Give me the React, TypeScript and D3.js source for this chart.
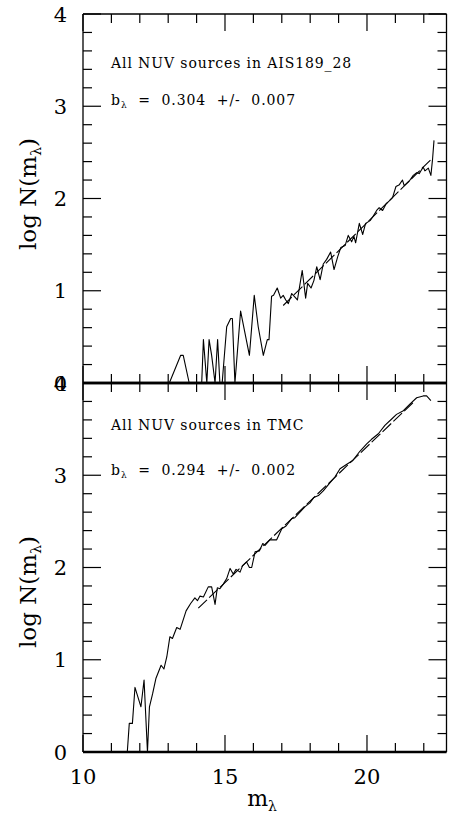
import React from 'react';
import * as d3 from 'd3';

// Top panel: all NUV sources in AIS189_28
const topMag = [13.04, 13.44, 13.53, 13.74, 14.18, 14.24, 14.36, 14.44, 14.53, 14.65, 14.74, 14.82, 14.9, 15.06, 15.2, 15.26, 15.35, 15.55, 15.86, 16.03, 16.17, 16.35, 16.49, 16.55, 16.64, 16.71, 16.84, 16.96, 17.05, 17.14, 17.23, 17.35, 17.44, 17.55, 17.72, 17.84, 17.91, 18.03, 18.13, 18.23, 18.35, 18.46, 18.58, 18.72, 18.84, 18.97, 19.08, 19.23, 19.34, 19.46, 19.54, 19.6, 19.73, 19.85, 19.95, 20.11, 20.2, 20.34, 20.43, 20.55, 20.67, 20.9, 21.02, 21.14, 21.25, 21.31, 21.49, 21.63, 21.75, 21.84, 21.9, 21.98, 22.04, 22.16, 22.25, 22.31, 22.36];
const topLogN = [0, 0.3, 0.3, 0, 0, 0.47, 0, 0.47, 0.3, 0, 0.47, 0, 0, 0.61, 0.7, 0.7, 0, 0.78, 0.3, 0.95, 0.61, 0.3, 0.47, 0.47, 0.94, 0.95, 1.03, 0.92, 0.95, 0.9, 0.86, 0.97, 0.94, 0.9, 1.22, 0.92, 1.08, 1.03, 1.11, 1.26, 1.12, 1.29, 1.34, 1.42, 1.23, 1.37, 1.47, 1.49, 1.6, 1.53, 1.59, 1.52, 1.73, 1.61, 1.73, 1.76, 1.8, 1.87, 1.9, 1.87, 1.94, 2.01, 2.13, 2.15, 2.2, 2.14, 2.19, 2.25, 2.28, 2.27, 2.3, 2.34, 2.3, 2.33, 2.25, 2.43, 2.63];
const topFitMag = [17.05, 22.31];
const topFitLogN = [0.84, 2.44];

// Bottom panel: all NUV sources in TMC
const botMag = [11.56, 11.63, 11.74, 11.83, 12.04, 12.15, 12.27, 12.34, 12.45, 12.57, 12.75, 12.85, 12.95, 13.06, 13.15, 13.3, 13.42, 13.63, 13.79, 13.94, 14.03, 14.12, 14.24, 14.41, 14.53, 14.65, 14.73, 14.82, 14.94, 15.06, 15.18, 15.29, 15.39, 15.53, 15.62, 15.76, 15.86, 15.94, 16.06, 16.21, 16.33, 16.41, 16.58, 16.82, 17.0, 17.15, 17.35, 17.46, 17.64, 17.82, 17.99, 18.13, 18.29, 18.46, 18.7, 18.87, 19.05, 19.29, 19.5, 19.75, 19.99, 20.16, 20.4, 20.63, 20.87, 21.04, 21.28, 21.51, 21.75, 21.98, 22.1, 22.25];
const botLogN = [0, 0.31, 0.31, 0.7, 0.49, 0.78, 0, 0.49, 0.63, 0.8, 0.94, 0.9, 1.03, 1.25, 1.23, 1.35, 1.33, 1.53, 1.61, 1.67, 1.64, 1.69, 1.68, 1.79, 1.79, 1.6, 1.78, 1.77, 1.82, 1.88, 1.99, 1.93, 1.98, 1.95, 2.02, 2.06, 2.0, 2.0, 2.17, 2.18, 2.26, 2.24, 2.3, 2.3, 2.42, 2.45, 2.53, 2.54, 2.6, 2.66, 2.7, 2.76, 2.78, 2.83, 2.92, 2.98, 3.07, 3.12, 3.16, 3.26, 3.34, 3.39, 3.45, 3.54, 3.61, 3.66, 3.7, 3.77, 3.84, 3.86, 3.86, 3.81];
const botFitMag = [14.06, 21.63];
const botFitLogN = [1.56, 3.79];

const xTicks = [10, 11, 12, 13, 14, 15, 16, 17, 18, 19, 20, 21, 22];
const xMajor = [10, 15, 20];
const yTicks = [0, 0.2, 0.4, 0.6, 0.8, 1, 1.2, 1.4, 1.6, 1.8, 2, 2.2, 2.4, 2.6, 2.8, 3, 3.2, 3.4, 3.6, 3.8, 4];
const yMajor = [0, 1, 2, 3, 4];

const panels = [
  { mag: topMag, logN: topLogN, fitMag: topFitMag, fitLogN: topFitLogN, title: 'All NUV sources in AIS189_28', b: '0.304', err: '0.007', y0: 14, y1: 383, labelY: 194, t1: 68, t2: 105 },
  { mag: botMag, logN: botLogN, fitMag: botFitMag, fitLogN: botFitLogN, title: 'All NUV sources in TMC', b: '0.294', err: '0.002', y0: 383, y1: 752, labelY: 592, t1: 430, t2: 475 },
];

const W = 452, H = 816;
const L = 83, R = 446.5;
const serif = 'DejaVu Serif';

export default function App() {
  const x = d3.scaleLinear().domain([10, 22.8]).range([L, R]);
  return (
    <svg width={W} height={H} style={{ position: 'absolute', left: 0, top: 0, background: '#fff' }}>
      <rect x={0} y={0} width={W} height={H} fill="#fff" />
      {panels.map((p, i) => {
        const y = d3.scaleLinear().domain([0, 4]).range([p.y1, p.y0]);
        const line = d3.line<number>().x((d, k) => x(p.mag[k])).y((d, k) => y(p.logN[k]));
        const fit = d3.line<number>().x((d, k) => x(p.fitMag[k])).y((d, k) => y(p.fitLogN[k]));
        return (
          <g key={i}>
            <line x1={L} x2={L} y1={p.y0} y2={p.y1} stroke="#000" strokeWidth={1.3} />
            <line x1={R} x2={R} y1={p.y0} y2={p.y1} stroke="#000" strokeWidth={1.3} />
            <line x1={L} x2={R} y1={p.y0} y2={p.y0} stroke="#000" strokeWidth={i === 0 ? 1.3 : 2.5} />
            <line x1={L} x2={R} y1={p.y1} y2={p.y1} stroke="#000" strokeWidth={2.5} />
            {xTicks.map(t => {
              const len = xMajor.includes(t) ? 17 : 9;
              return (
                <g key={'x' + t}>
                  <line x1={x(t)} x2={x(t)} y1={p.y1} y2={p.y1 - len} stroke="#000" strokeWidth={1.2} />
                  <line x1={x(t)} x2={x(t)} y1={p.y0} y2={p.y0 + len} stroke="#000" strokeWidth={1.2} />
                </g>
              );
            })}
            {yTicks.map(t => {
              const len = yMajor.includes(t) ? 18 : 9;
              return (
                <g key={'y' + t}>
                  <line x1={L} x2={L + len} y1={y(t)} y2={y(t)} stroke="#000" strokeWidth={1.2} />
                  <line x1={R} x2={R - len} y1={y(t)} y2={y(t)} stroke="#000" strokeWidth={1.2} />
                </g>
              );
            })}
            {yMajor.map(t => (
              <text key={'yl' + t} x={67} y={y(t)} dy="0.36em" textAnchor="end" fontFamily={serif} fontSize={21}>{t}</text>
            ))}
            <path d={line(p.mag) || ''} fill="none" stroke="#000" strokeWidth={1.1} strokeLinejoin="round" />
            <path d={fit(p.fitMag) || ''} fill="none" stroke="#000" strokeWidth={1.1} strokeDasharray="12,3" />
            <text x={111} y={p.t1} fontFamily={serif} fontSize={14} letterSpacing={0.9}>{p.title}</text>
            <text x={111} y={p.t2} fontFamily={serif} fontSize={14} letterSpacing={0.9} style={{ whiteSpace: 'pre' }}>
              b<tspan fontSize={9} dy={3}>λ</tspan><tspan dy={-3}>{`  =  ${p.b}  +/-  ${p.err}`}</tspan>
            </text>
            <text transform={`translate(36,${p.labelY}) rotate(-90)`} textAnchor="middle" fontFamily={serif} fontSize={23}>
              log N(m<tspan fontSize={14} dy={5}>λ</tspan><tspan dy={-5}>)</tspan>
            </text>
          </g>
        );
      })}
      {xMajor.map(t => (
        <text key={'xl' + t} x={x(t)} y={784} textAnchor="middle" fontFamily={serif} fontSize={21}>{t}</text>
      ))}
      <text x={262} y={806} textAnchor="middle" fontFamily={serif} fontSize={22}>
        m<tspan fontSize={14} dy={5}>λ</tspan>
      </text>
    </svg>
  );
}
